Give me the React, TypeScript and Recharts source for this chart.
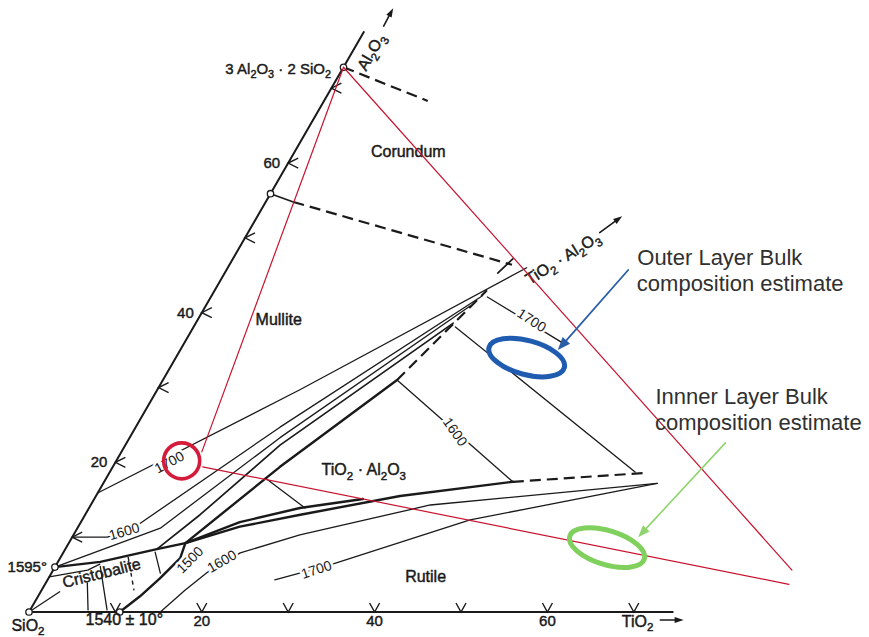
import React from 'react';
import { ScatterChart, Scatter, XAxis, YAxis } from 'recharts';

// Every point is a composition [TiO2 wt%, Al2O3 wt%] (SiO2 is the remainder)
type P = [number, number];

// ---------- axes ----------
const tio2AxisLine: P[] = [[0, 0], [74.5, 0]];
const al2o3AxisLine: P[] = [[0, 0], [0, 77.5]];
const axisTickValues = [10, 20, 30, 40, 50, 60, 70];
const axisLabelValues = [20, 40, 60];

// ---------- invariant points (open circles) ----------
const invariantPoints: P[] = [[0, 0], [10.5, 0], [0, 6.0], [0, 55.9], [0, 72.8]];

// ---------- boundary curves ----------
const mulliteCorundumUpperDashed: P[] = [[0, 72.8], [12.0, 68.3]];
const corundumMulliteSolid: P[] = [[0, 55.9], [3.2, 54.8]];
const corundumMulliteDashed: P[] = [[3.2, 54.8], [32.7, 46.4]];
const corundumBoundaryTick: P[] = [[31.6, 45.3], [32.4, 47.2]];
const cristobaliteMullite: P[] = [[0, 6.0], [4.9, 6.7], [10.6, 8.4], [13.5, 9.2]];
const cristobaliteLowerCurve: P[] = [[5.0, 6.4], [4.0, 5.6], [0, 4.7]];
const cristobaliteRutile: P[] = [[10.5, 0], [11.8, 2.1], [12.9, 4.5], [13.9, 7.2], [13.5, 9.2]];
const mulliteTitanateSolid: P[] = [[13.5, 9.2], [19.35, 19.4], [27.1, 31.0]];
const mulliteTitanateDashed: P[] = [[27.1, 31.0], [31.5, 43.0]];
const titanateRutileUpper: P[] = [[13.5, 9.2], [18.4, 12.0], [24.4, 13.9], [31.1, 15.1]];
const titanateRutileLower: P[] = [[13.5, 9.2], [18.7, 11.4], [24.9, 13.0], [35.2, 15.5], [47.3, 17.4]];
const titanateRutileDashed: P[] = [[47.3, 17.4], [62.2, 18.6]];

// ---------- isotherms / fan lines ----------
const mullite1700: P[] = [[0, 15.9], [16.5, 29.7], [34.6, 46.0]];
const mullite1600: P[] = [[0, 10.0], [4.1, 10.0], [6.9, 11.8], [16.7, 24.7], [31.3, 42.2]];
const mulliteFanA: P[] = [[0, 6.0], [9.6, 11.2], [17.4, 23.3], [30.6, 40.9]];
const mulliteFanB: P[] = [[10.6, 8.4], [13.3, 13.0], [17.9, 22.3], [29.8, 38.6]];
const rutile1600: P[] = [[15.2, 0], [16.6, 2.9], [18.0, 5.3], [20.5, 7.9], [26.2, 10.3], [39.3, 14.3], [64.1, 17.2]];
const rutile1700: P[] = [[26.3, 4.3], [31.7, 6.3], [44.9, 12.3], [64.1, 17.2]];

// ---------- tie lines ----------
const tieTitanateLow: P[] = [[18.4, 17.9], [25.0, 13.9]];
const tie1600: P[] = [[27.1, 31.0], [47.3, 17.4]];
const tieMiddle: P[] = [[30.3, 38.1], [60.8, 18.7]];
const tie1700: P[] = [[32.0, 42.1], [43.7, 36.0]];

// ---------- cristobalite field lines ----------
const cristobaliteLabelLine: P[] = [[0, 0], [2.2, 2.7]];
const cristobaliteTie1: P[] = [[4.8, 3.9], [6.7, 0.27]];
const cristobaliteTie2: P[] = [[5.2, 6.1], [8.9, 0.27]];
const cristobaliteTie3: P[] = [[7.8, 7.35], [10.7, 2.9]];
const cristobaliteTie4: P[] = [[10.6, 8.0], [12.6, 5.2]];

// ---------- overlaid annotation (red triangle, estimates) ----------
const redMulliteToInner: P[] = [[0, 72.8], [9.3, 21.4]];
const redMulliteToRight: P[] = [[0, 72.8], [85.5, 5.6]];
const redInnerToRight: P[] = [[10.4, 19.4], [86.1, 3.7]];
const redCircleCentre: P[] = [[7.57, 20.2]];
const outerEstimateCentre: P[] = [[40.6, 34.0]];
const innerEstimateCentre: P[] = [[62.6, 8.6]];
const outerArrow: P[] = [[46.5, 45.7], [43.7, 35.0]];
const innerArrow: P[] = [[69.3, 22.6], [65.5, 10.0]];

// ---------- axis arrows ----------
const tio2Arrow: P[] = [[73.6, -1.07], [76.3, -1.07]];
const al2o3Arrow: P[] = [[1.9, 78.3], [1.8, 80.7]];
const joinArrow: P[] = [[40.7, 50.7], [42.2, 52.9]];

// ---------- text ----------
type Lbl = { key: string; text: string; at: P };
const fieldLabels: Lbl[] = [
  { key: 'corundum', text: 'Corundum', at: [13.5, 60.8] },
  { key: 'mullite', text: 'Mullite', at: [9.7, 38.4] },
  { key: 'titanate', text: 'TiO_2 · Al_2O_3', at: [29.6, 18.3] },
  { key: 'rutile', text: 'Rutile', at: [43.9, 4.0] },
  { key: 'cristobalite', text: 'Cristobalite', at: [6.3, 4.5] },
  { key: 'sio2', text: 'SiO_2', at: [1.15, -2.54] },
  { key: 't1540', text: '1540 ± 10°', at: [11.9, -1.74] },
];
const endLabels: Lbl[] = [
  { key: 'mulliteComp', text: '3 Al_2O_3 · 2 SiO_2', at: [-1.0, 71.9] },
  { key: 't1595', text: '1595°', at: [-0.6, 5.35] },
];
const startLabels: Lbl[] = [
  { key: 'al2o3', text: 'Al_2O_3', at: [2.9, 72.2] },
  { key: 'join', text: 'TiO_2 · Al_2O_3', at: [36.1, 43.7] },
  { key: 'tio2', text: 'TiO_2', at: [69.6, -2.0] },
];
const isothermLabels: Lbl[] = [
  { key: 'm1700', text: '1700', at: [6.2, 20.05] },
  { key: 'm1600', text: '1600', at: [5.6, 10.8] },
  { key: 'r1600', text: '1600', at: [18.9, 6.8] },
  { key: 'r1500', text: '1500', at: [15.1, 7.0] },
  { key: 'r1700', text: '1700', at: [30.4, 5.7] },
  { key: 't1700', text: '1700', at: [38.7, 39.0] },
  { key: 't1600', text: '1600', at: [37.3, 24.1] },
];
const noteLabels: Lbl[] = [
  { key: 'o1', text: 'Outer Layer Bulk', at: [47.2, 46.4] },
  { key: 'o2', text: 'composition estimate', at: [48.9, 42.9] },
  { key: 'i1', text: 'Innner Layer Bulk', at: [58.6, 27.8] },
  { key: 'i2', text: 'composition estimate', at: [60.3, 24.3] },
];

// ---------- styles (kept apart from the data) ----------
const WIDTH = 869;
const HEIGHT = 637;
const X_DOMAIN: [number, number] = [-3.356, 97.22];
const Y_DOMAIN: [number, number] = [-2.894, 70.83];
const INK = '#1a1a1a';
const RED = '#c8142f';
const BLUE = '#1f5cb0';
const GREEN = '#7fd05c';
const FONT = '"Liberation Sans", Arial, Helvetica, sans-serif';

const labelAngles: Record<string, number> = {
  cristobalite: -14,
  al2o3: -60,
  join: -32,
  m1700: -28,
  m1600: -16,
  r1600: -30,
  r1500: -45,
  r1700: -18,
  t1700: 33,
  t1600: 55,
};

type LineStyle = { stroke: string; width: number; dash?: string; arrow?: boolean; headLen?: number; headW?: number };
const AXIS: LineStyle = { stroke: INK, width: 2 };
const THIN: LineStyle = { stroke: INK, width: 1.3 };
const BOUND: LineStyle = { stroke: INK, width: 2.4 };
const MED: LineStyle = { stroke: INK, width: 1.7 };
const DASH: LineStyle = { stroke: INK, width: 2.2, dash: '11 6' };
const DASH_SHORT: LineStyle = { stroke: INK, width: 1.4, dash: '4 4' };
const RED_LINE: LineStyle = { stroke: RED, width: 1.2 };
const BLUE_ARROW: LineStyle = { stroke: '#2a5fa8', width: 1.8, arrow: true, headLen: 13, headW: 5 };
const GREEN_ARROW: LineStyle = { stroke: '#8fd46f', width: 1.6, arrow: true, headLen: 12, headW: 4.5 };
const AXIS_ARROW: LineStyle = { stroke: INK, width: 1.6, arrow: true, headLen: 9, headW: 3 };

const lineSeries: { name: string; pts: P[]; style: LineStyle }[] = [
  { name: 'tio2Axis', pts: tio2AxisLine, style: AXIS },
  { name: 'al2o3Axis', pts: al2o3AxisLine, style: AXIS },
  { name: 'mcUpper', pts: mulliteCorundumUpperDashed, style: DASH },
  { name: 'cmSolid', pts: corundumMulliteSolid, style: MED },
  { name: 'cmDash', pts: corundumMulliteDashed, style: DASH },
  { name: 'cmTick', pts: corundumBoundaryTick, style: MED },
  { name: 'crisMul', pts: cristobaliteMullite, style: BOUND },
  { name: 'crisLow', pts: cristobaliteLowerCurve, style: THIN },
  { name: 'crisRut', pts: cristobaliteRutile, style: BOUND },
  { name: 'mtSolid', pts: mulliteTitanateSolid, style: BOUND },
  { name: 'mtDash', pts: mulliteTitanateDashed, style: DASH },
  { name: 'trUpper', pts: titanateRutileUpper, style: BOUND },
  { name: 'trLower', pts: titanateRutileLower, style: BOUND },
  { name: 'trDash', pts: titanateRutileDashed, style: DASH },
  { name: 'm1700', pts: mullite1700, style: THIN },
  { name: 'm1600', pts: mullite1600, style: THIN },
  { name: 'fanA', pts: mulliteFanA, style: THIN },
  { name: 'fanB', pts: mulliteFanB, style: MED },
  { name: 'r1600', pts: rutile1600, style: THIN },
  { name: 'r1700', pts: rutile1700, style: THIN },
  { name: 'tieLow', pts: tieTitanateLow, style: THIN },
  { name: 'tie1600', pts: tie1600, style: THIN },
  { name: 'tieMid', pts: tieMiddle, style: THIN },
  { name: 'tie1700', pts: tie1700, style: THIN },
  { name: 'crisLbl', pts: cristobaliteLabelLine, style: THIN },
  { name: 'crisT1', pts: cristobaliteTie1, style: THIN },
  { name: 'crisT2', pts: cristobaliteTie2, style: THIN },
  { name: 'crisT3', pts: cristobaliteTie3, style: DASH_SHORT },
  { name: 'crisT4', pts: cristobaliteTie4, style: THIN },
  { name: 'tio2Arrow', pts: tio2Arrow, style: AXIS_ARROW },
  { name: 'al2o3Arrow', pts: al2o3Arrow, style: AXIS_ARROW },
  { name: 'joinArrow', pts: joinArrow, style: AXIS_ARROW },
];

const overlaySeries: { name: string; pts: P[]; style: LineStyle }[] = [
  { name: 'red1', pts: redMulliteToInner, style: RED_LINE },
  { name: 'red2', pts: redMulliteToRight, style: RED_LINE },
  { name: 'red3', pts: redInnerToRight, style: RED_LINE },
  { name: 'blueArrow', pts: outerArrow, style: BLUE_ARROW },
  { name: 'greenArrow', pts: innerArrow, style: GREEN_ARROW },
];

// ---------- helpers ----------
const SIN60 = Math.sqrt(3) / 2;
const toXY = (p: P) => ({ x: p[0] + p[1] / 2, y: p[1] * SIN60 });
const lblData = (ls: Lbl[]) => ls.map((l) => ({ ...toXY(l.at), key: l.key, text: l.text }));

const makeLine = (s: LineStyle) => (props: any) => {
  const pts: { x: number; y: number }[] = (props && props.points) || [];
  if (pts.length < 2) return <g />;
  const coords = pts.map((p) => ({ x: p.x, y: p.y }));
  let head: React.ReactNode = null;
  if (s.arrow) {
    const a = coords[coords.length - 2];
    const b = coords[coords.length - 1];
    const ang = Math.atan2(b.y - a.y, b.x - a.x);
    const len = s.headLen || 10;
    const hw = s.headW || 4;
    const bx = b.x - len * Math.cos(ang);
    const by = b.y - len * Math.sin(ang);
    const nx = -Math.sin(ang) * hw;
    const ny = Math.cos(ang) * hw;
    head = <path d={`M${b.x},${b.y} L${bx + nx},${by + ny} L${bx - nx},${by - ny} Z`} fill={s.stroke} />;
    coords[coords.length - 1] = { x: b.x - (len - 1) * Math.cos(ang), y: b.y - (len - 1) * Math.sin(ang) };
  }
  const d = coords.map((p, i) => `${i === 0 ? 'M' : 'L'}${p.x.toFixed(2)},${p.y.toFixed(2)}`).join(' ');
  return (
    <g>
      <path
        d={d}
        fill="none"
        stroke={s.stroke}
        strokeWidth={s.width}
        strokeDasharray={s.dash}
        strokeLinejoin="round"
        strokeLinecap={s.dash ? 'butt' : 'round'}
      />
      {head}
    </g>
  );
};

function richText(text: string, fs: number) {
  const parts: React.ReactNode[] = [];
  let buf = '';
  let k = 0;
  let shifted = false;
  const flush = () => {
    if (buf) {
      parts.push(
        <tspan key={k++} dy={shifted ? -fs * 0.28 : 0}>
          {buf}
        </tspan>
      );
      shifted = false;
      buf = '';
    }
  };
  for (let i = 0; i < text.length; i++) {
    if (text[i] === '_' && i + 1 < text.length) {
      flush();
      parts.push(
        <tspan key={k++} fontSize={fs * 0.72} dy={fs * 0.28}>
          {text[i + 1]}
        </tspan>
      );
      shifted = true;
      i++;
    } else {
      buf += text[i];
    }
  }
  flush();
  return parts;
}

type TextOpts = {
  size: number;
  anchor: 'start' | 'middle' | 'end';
  color?: string;
  halo?: boolean;
  heavy?: boolean;
  central?: boolean;
  dx?: number;
  dy?: number;
};

const makeText = (o: TextOpts) => (props: any) => {
  const { cx, cy, payload } = props;
  const x = cx + (o.dx || 0);
  const y = cy + (o.dy || 0);
  const text: string = payload && payload.text != null ? String(payload.text) : '';
  const rot = payload && labelAngles[payload.key] ? labelAngles[payload.key] : 0;
  const fill = o.color || INK;
  const stroke = o.halo ? '#ffffff' : o.heavy ? fill : 'none';
  const sw = o.halo ? 5 : o.heavy ? 0.45 : 0;
  return (
    <text
      x={x}
      y={y}
      fontSize={o.size}
      fontFamily={FONT}
      textAnchor={o.anchor}
      dominantBaseline={o.central ? 'central' : 'auto'}
      fill={fill}
      stroke={stroke}
      strokeWidth={sw}
      paintOrder="stroke"
      strokeLinejoin="round"
      transform={rot ? `rotate(${rot} ${x} ${y})` : undefined}
    >
      {richText(text, o.size)}
    </text>
  );
};

const baseTickShape = (props: any) => {
  const { cx, cy } = props;
  return <path d={`M${cx - 5},${cy - 9} L${cx},${cy} L${cx + 5},${cy - 9}`} fill="none" stroke={INK} strokeWidth={1.4} />;
};
const leftTickShape = (props: any) => {
  const { cx, cy } = props;
  return <path d={`M${cx + 10},${cy - 5} L${cx},${cy} L${cx + 10},${cy + 5}`} fill="none" stroke={INK} strokeWidth={1.4} />;
};
const openCircleShape = (props: any) => (
  <circle cx={props.cx} cy={props.cy} r={3.2} fill="#ffffff" stroke={INK} strokeWidth={1.3} />
);
const makeEllipse = (rx: number, ry: number, rot: number, color: string, w: number) => (props: any) => (
  <ellipse
    cx={props.cx}
    cy={props.cy}
    rx={rx}
    ry={ry}
    fill="none"
    stroke={color}
    strokeWidth={w}
    transform={`rotate(${rot} ${props.cx} ${props.cy})`}
  />
);
const noShape = () => <g />;

const baseTickData = axisTickValues.map((v) => ({ ...toXY([v, 0]), text: '' }));
const leftTickData = axisTickValues.map((v) => ({ ...toXY([0, v]), text: '' }));
const baseLabelData = axisLabelValues.map((v) => ({ ...toXY([v, 0]), text: String(v), key: 'b' + v }));
const leftLabelData = axisLabelValues.map((v) => ({ ...toXY([0, v]), text: String(v), key: 'l' + v }));

export default function App() {
  const renderLines = (series: { name: string; pts: P[]; style: LineStyle }[]) =>
    series.map((s) => (
      <Scatter
        key={s.name}
        name={s.name}
        data={s.pts.map(toXY)}
        fill={s.style.stroke}
        line={makeLine(s.style)}
        lineType="joint"
        shape={noShape}
        isAnimationActive={false}
      />
    ));

  return (
    <div style={{ position: 'fixed', left: 0, top: 0, width: WIDTH, height: HEIGHT, background: '#ffffff' }}>
      <ScatterChart width={WIDTH} height={HEIGHT} margin={{ top: 0, right: 0, bottom: 0, left: 0 }}>
        <XAxis type="number" dataKey="x" domain={X_DOMAIN} allowDataOverflow hide />
        <YAxis type="number" dataKey="y" domain={Y_DOMAIN} allowDataOverflow hide />
        {renderLines(lineSeries)}
        <Scatter name="baseTicks" data={baseTickData} shape={baseTickShape} isAnimationActive={false} />
        <Scatter name="leftTicks" data={leftTickData} shape={leftTickShape} isAnimationActive={false} />
        <Scatter name="invariants" data={invariantPoints.map(toXY)} shape={openCircleShape} isAnimationActive={false} />
        <Scatter
          name="baseLabels"
          data={baseLabelData}
          shape={makeText({ size: 15, anchor: 'middle', dy: 14, heavy: true })}
          isAnimationActive={false}
        />
        <Scatter
          name="leftLabels"
          data={leftLabelData}
          shape={makeText({ size: 15, anchor: 'end', dx: -8, dy: 5, heavy: true })}
          isAnimationActive={false}
        />
        <Scatter
          name="fieldLabels"
          data={lblData(fieldLabels)}
          shape={makeText({ size: 16, anchor: 'middle', heavy: true })}
          isAnimationActive={false}
        />
        <Scatter
          name="endLabels"
          data={lblData(endLabels)}
          shape={makeText({ size: 15, anchor: 'end', heavy: true })}
          isAnimationActive={false}
        />
        <Scatter
          name="startLabels"
          data={lblData(startLabels)}
          shape={makeText({ size: 16, anchor: 'start', heavy: true })}
          isAnimationActive={false}
        />
        <Scatter
          name="isotherms"
          data={lblData(isothermLabels)}
          shape={makeText({ size: 14, anchor: 'middle', central: true, halo: true })}
          isAnimationActive={false}
        />
        {renderLines(overlaySeries)}
        <Scatter name="innerCircle" data={redCircleCentre.map(toXY)} shape={makeEllipse(18, 18, 0, '#d41c3a', 3.6)} isAnimationActive={false} />
        <Scatter name="outerEllipse" data={outerEstimateCentre.map(toXY)} shape={makeEllipse(39, 17, 15, BLUE, 5)} isAnimationActive={false} />
        <Scatter name="innerEllipse" data={innerEstimateCentre.map(toXY)} shape={makeEllipse(39, 17, 17, GREEN, 5)} isAnimationActive={false} />
        <Scatter
          name="notes"
          data={lblData(noteLabels)}
          shape={makeText({ size: 22, anchor: 'start', color: '#303030' })}
          isAnimationActive={false}
        />
      </ScatterChart>
    </div>
  );
}
